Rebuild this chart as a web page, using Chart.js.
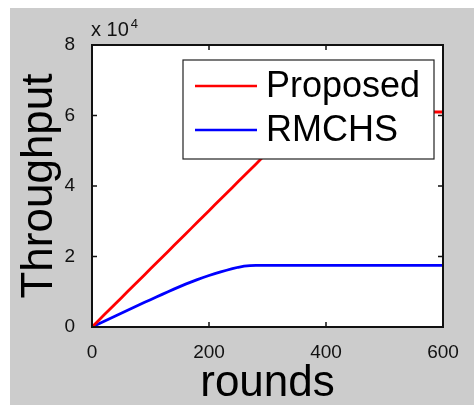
<!DOCTYPE html>
<html><head><meta charset="utf-8">
<script src="https://cdn.jsdelivr.net/npm/chart.js@4.4.1/dist/chart.umd.min.js"></script>
<style>
html,body{margin:0;padding:0;background:#fff;width:474px;height:405px;overflow:hidden}
#wrap{position:absolute;left:10px;top:8px;width:464px;height:397px;background:#cccccc}
canvas{display:block}
</style></head><body>
<div id="wrap"><canvas id="c" width="464" height="397"></canvas></div>
<script>
const rounds = [0,10,20,30,40,50,60,70,80,90,100,110,120,130,140,150,160,170,180,190,200,
  210,220,230,240,250,260,270,280,290,300,310,320,330,340,350,360,370,380,390,400,
  410,420,430,440,450,460,470,480,490,500,510,520,530,540,550,560,570,580,590,600];
const proposed = [0,1650,3300,4950,6600,8250,9900,11550,13200,14850,16500,18150,19800,21450,23100,24750,26400,28050,29700,31350,33000,
  34650,36300,37950,39600,41250,42900,44550,46200,47850,49500,51150,52800,54400,55950,57400,58800,60000,60700,61000,61000,
  61000,61000,61000,61000,61000,61000,61000,61000,61000,61000,61000,61000,61000,61000,61000,61000,61000,61000,61000,61000];
const rmchs = [0,780,1560,2340,3120,3900,4680,5460,6240,7000,7750,8500,9250,10000,10750,11450,12150,12800,13450,14050,14600,
  15150,15650,16100,16550,16950,17250,17400,17500,17500,17500,17500,17500,17500,17500,17500,17500,17500,17500,17500,17500,
  17500,17500,17500,17500,17500,17500,17500,17500,17500,17500,17500,17500,17500,17500,17500,17500,17500,17500,17500,17500];
const seriesNames = ['Proposed','RMCHS'];
const seriesColors = ['#ff0000','#0000ff'];
const xTickValues = [0,200,400,600];
const xTickLabels = ['0','200','400','600'];
const yTickValues = [0,20000,40000,60000,80000];
const yTickLabels = ['0','2','4','6','8'];
const yExponent = '4';

const FONT = '"Liberation Sans", Arial, sans-serif';

const matlabPlugin = {
  id: 'matlab',
  beforeDraw(chart) {
    const {ctx, chartArea: a} = chart;
    ctx.save();
    ctx.fillStyle = '#ffffff';
    ctx.fillRect(a.left, a.top, a.right - a.left, a.bottom - a.top);
    ctx.restore();
  },
  afterDatasetsDraw(chart) {
    const {ctx, chartArea: a, scales} = chart;
    ctx.save();
    ctx.strokeStyle = '#111';
    ctx.lineWidth = 2;
    ctx.strokeRect(a.left, a.top, a.right - a.left, a.bottom - a.top);
    ctx.lineWidth = 1.5;
    const tl = 5;
    xTickValues.forEach(v => {
      if (v === xTickValues[0] || v === xTickValues[xTickValues.length-1]) return;
      const px = scales.x.getPixelForValue(v);
      ctx.beginPath();
      ctx.moveTo(px, a.bottom); ctx.lineTo(px, a.bottom - tl);
      ctx.moveTo(px, a.top); ctx.lineTo(px, a.top + tl);
      ctx.stroke();
    });
    yTickValues.forEach(v => {
      if (v === yTickValues[0] || v === yTickValues[yTickValues.length-1]) return;
      const py = scales.y.getPixelForValue(v);
      ctx.beginPath();
      ctx.moveTo(a.left, py); ctx.lineTo(a.left + tl, py);
      ctx.moveTo(a.right, py); ctx.lineTo(a.right - tl, py);
      ctx.stroke();
    });
    ctx.fillStyle = '#111';
    ctx.textBaseline = 'alphabetic';
    ctx.textAlign = 'left';
    ctx.font = '20px ' + FONT;
    ctx.fillText('x 10', a.left - 1, a.top - 9);
    const w = ctx.measureText('x 10').width;
    ctx.font = '13px ' + FONT;
    ctx.fillText(yExponent, a.left - 1 + w + 2, a.top - 17);
    const bw = 251, bh = 99;
    const bx = a.right - 9 - bw, by = a.top + 15;
    ctx.fillStyle = '#ffffff';
    ctx.fillRect(bx, by, bw, bh);
    ctx.strokeStyle = '#222';
    ctx.lineWidth = 1.2;
    ctx.strokeRect(bx, by, bw, bh);
    ctx.font = '36px ' + FONT;
    ctx.textBaseline = 'middle';
    seriesNames.forEach((name, i) => {
      const cy = by + 26 + i * 44;
      ctx.strokeStyle = seriesColors[i];
      ctx.lineWidth = 2.5;
      ctx.beginPath();
      ctx.moveTo(bx + 12, cy); ctx.lineTo(bx + 74, cy);
      ctx.stroke();
      ctx.fillStyle = '#000';
      ctx.fillText(name, bx + 83, cy + 1);
    });
    ctx.restore();
  }
};

new Chart(document.getElementById('c'), {
  type: 'line',
  data: {
    datasets: [
      { label: seriesNames[0], data: rounds.map((r, i) => ({x: r, y: proposed[i]})),
        borderColor: seriesColors[0], borderWidth: 2.8, pointRadius: 0, tension: 0, fill: false },
      { label: seriesNames[1], data: rounds.map((r, i) => ({x: r, y: rmchs[i]})),
        borderColor: seriesColors[1], borderWidth: 2.8, pointRadius: 0, tension: 0, fill: false }
    ]
  },
  options: {
    responsive: false,
    animation: false,
    layout: { padding: { top: 37, right: 31, left: 0, bottom: 0 } },
    plugins: { legend: { display: false }, tooltip: { enabled: false } },
    scales: {
      x: {
        type: 'linear', min: 0, max: 600,
        grid: { display: false }, border: { display: false },
        afterBuildTicks: s => { s.ticks = xTickValues.map(v => ({value: v})); },
        ticks: { autoSkip: false, maxRotation: 0, padding: 6, color: '#111',
          font: { family: FONT, size: 19 },
          callback: v => xTickLabels[xTickValues.indexOf(v)] },
        title: { display: true, text: 'rounds', color: '#000',
          font: { family: FONT, size: 44, lineHeight: 1 }, padding: { top: 0, bottom: -1 } },
        afterFit: s => { s.height = 78; }
      },
      y: {
        type: 'linear', min: 0, max: 80000,
        grid: { display: false }, border: { display: false },
        afterBuildTicks: s => { s.ticks = yTickValues.map(v => ({value: v})); },
        ticks: { autoSkip: false, padding: 9, color: '#111',
          font: { family: FONT, size: 19 },
          callback: v => yTickLabels[yTickValues.indexOf(v)] },
        title: { display: true, text: 'Throughput', color: '#000',
          font: { family: FONT, size: 44, lineHeight: 1 }, padding: { top: 8, bottom: 0 } },
        afterFit: s => { s.width = 82; }
      }
    }
  },
  plugins: [matlabPlugin]
});
</script>
</body></html>
